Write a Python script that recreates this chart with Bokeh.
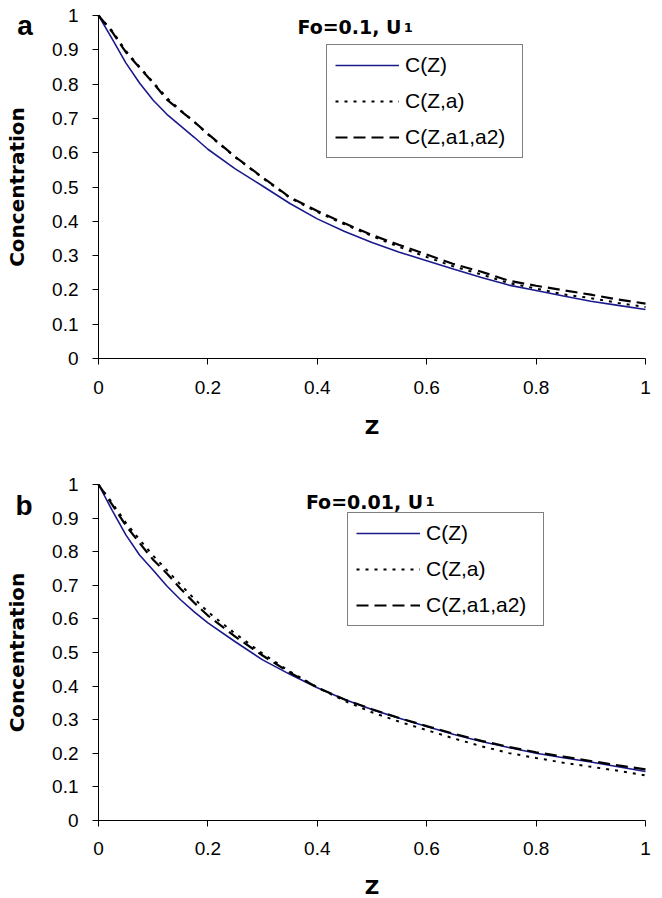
from bokeh.plotting import figure
from bokeh.models import Range1d, FixedTicker, Label, Legend, LegendItem
from bokeh.layouts import column
from bokeh.embed import file_html
from bokeh.resources import INLINE

# ---------------- data ----------------
z = [0, 0.025, 0.05, 0.075, 0.1, 0.125, 0.15, 0.175, 0.2, 0.25, 0.3, 0.35, 0.4,
     0.45, 0.5, 0.55, 0.6, 0.65, 0.7, 0.75, 0.8, 0.85, 0.9, 0.95, 1.0]

# panel a : Fo=0.1
a_cz = [1.0, 0.932, 0.862, 0.803, 0.753, 0.712, 0.678, 0.645, 0.610, 0.553, 0.503, 0.452, 0.407,
        0.370, 0.338, 0.310, 0.285, 0.260, 0.236, 0.214, 0.198, 0.182, 0.167, 0.155, 0.143]
a_cza = [1.0, 0.955, 0.897, 0.850, 0.805, 0.760, 0.724, 0.690, 0.653, 0.587, 0.526, 0.468, 0.427,
         0.391, 0.357, 0.325, 0.296, 0.268, 0.245, 0.220, 0.204, 0.187, 0.176, 0.162, 0.150]
a_cza12 = [1.0, 0.952, 0.893, 0.848, 0.803, 0.755, 0.722, 0.690, 0.655, 0.588, 0.528, 0.470, 0.430,
           0.394, 0.360, 0.331, 0.303, 0.275, 0.253, 0.227, 0.212, 0.199, 0.186, 0.172, 0.160]

# panel b : Fo=0.01
b_cz = [1.0, 0.923, 0.850, 0.790, 0.745, 0.698, 0.657, 0.621, 0.588, 0.532, 0.478, 0.435, 0.395,
        0.360, 0.330, 0.304, 0.280, 0.256, 0.235, 0.217, 0.200, 0.187, 0.174, 0.160, 0.146]
b_cza = [1.0, 0.945, 0.886, 0.836, 0.788, 0.745, 0.702, 0.660, 0.621, 0.556, 0.497, 0.443, 0.396,
         0.356, 0.322, 0.294, 0.269, 0.244, 0.221, 0.201, 0.186, 0.172, 0.160, 0.148, 0.134]
b_cza12 = [1.0, 0.940, 0.878, 0.826, 0.776, 0.735, 0.690, 0.648, 0.610, 0.547, 0.491, 0.440, 0.396,
           0.360, 0.331, 0.305, 0.281, 0.258, 0.237, 0.219, 0.203, 0.190, 0.177, 0.164, 0.152]

series_names = ["C(Z)", "C(Z,a)", "C(Z,a1,a2)"]
x_ticks = [0, 0.2, 0.4, 0.6, 0.8, 1]
x_tick_labels = ["0", "0.2", "0.4", "0.6", "0.8", "1"]
y_ticks = [0, 0.1, 0.2, 0.3, 0.4, 0.5, 0.6, 0.7, 0.8, 0.9, 1]
y_tick_labels = ["0", "0.1", "0.2", "0.3", "0.4", "0.5", "0.6", "0.7", "0.8", "0.9", "1"]

TICK_FONT = "Liberation Sans"
BOLD_FONT = "DejaVu Sans"

# frame geometry (pixels): the frame fills the whole canvas, axes are pinned at 0
FW = 655          # canvas width
AX_X = 98         # pixel column of z = 0
UNIT_X = 547      # pixels per unit of z


def make_panel(cz, cza, cza12, title_main, letter, canvas_h, y1_px, y0_px,
               legend_xy, lab_standoff, axlab_standoff, title_xy, letter_xy):
    unit_y = y0_px - y1_px
    y_top = 1 + y1_px / unit_y
    y_bot = -(canvas_h - y0_px) / unit_y
    x_lo = -AX_X / UNIT_X
    x_hi = (FW - AX_X) / UNIT_X
    p = figure(frame_width=FW, frame_height=canvas_h, output_backend="svg",
               toolbar_location=None, x_range=Range1d(x_lo, x_hi),
               y_range=Range1d(y_bot, y_top),
               min_border_left=0, min_border_right=0, min_border_top=0,
               min_border_bottom=0)
    p.outline_line_color = None
    p.xgrid.visible = False
    p.ygrid.visible = False
    p.background_fill_color = "white"
    p.border_fill_color = "white"

    for ax, ticks, labels in ((p.xaxis[0], x_ticks, x_tick_labels),
                              (p.yaxis[0], y_ticks, y_tick_labels)):
        ax.ticker = FixedTicker(ticks=ticks)
        ax.major_label_overrides = {t: l for t, l in zip(ticks, labels)}
        ax.fixed_location = 0
        ax.bounds = (0, 1)
        ax.minor_tick_line_color = None
        ax.major_tick_in = 0
        ax.major_tick_out = 6
        ax.axis_line_color = "black"
        ax.major_tick_line_color = "black"
        ax.major_label_text_font = TICK_FONT
        ax.major_label_text_font_size = "19px"
        ax.major_label_text_color = "black"
        ax.axis_label_text_font = BOLD_FONT
        ax.axis_label_text_font_style = "bold"
        ax.axis_label_text_font_size = "20px"
        ax.axis_label_text_color = "black"
    p.xaxis.axis_label = "Z"
    p.yaxis.axis_label = "Concentration"
    p.xaxis.major_label_standoff = lab_standoff
    p.xaxis.axis_label_standoff = axlab_standoff
    p.yaxis.major_label_standoff = 14
    p.yaxis.axis_label_standoff = 20

    r1 = p.line(z, cz, line_color="#1a1a8c", line_width=1.6)
    r2 = p.line(z, cza, line_color="black", line_width=2, line_dash="3 6")
    r3 = p.line(z, cza12, line_color="black", line_width=2.2, line_dash="12 6")

    legend = Legend(items=[LegendItem(label=series_names[0], renderers=[r1]),
                           LegendItem(label=series_names[1], renderers=[r2]),
                           LegendItem(label=series_names[2], renderers=[r3])],
                    location=legend_xy, margin=0, padding=8, spacing=12,
                    glyph_width=64, glyph_height=24, label_height=24, label_width=109,
                    label_standoff=6, border_line_color="black", border_line_width=1,
                    label_text_font=TICK_FONT, label_text_font_size="21px",
                    label_text_color="black", background_fill_alpha=1)
    p.add_layout(legend, "center")

    tx, ty = title_xy
    p.add_layout(Label(x=tx, y=ty, text=title_main, text_align="right",
                       text_baseline="alphabetic", text_font=BOLD_FONT,
                       text_font_style="bold", text_font_size="19px", text_color="black"))
    p.add_layout(Label(x=tx + 0.004, y=ty, text="1", text_align="left",
                       text_baseline="alphabetic", text_font=BOLD_FONT,
                       text_font_style="bold", text_font_size="13px", text_color="black"))
    lx, ly = letter_xy
    p.add_layout(Label(x=lx, y=ly, text=letter, text_align="center",
                       text_baseline="alphabetic", text_font="Liberation Sans",
                       text_font_style="bold", text_font_size="28px", text_color="black"))
    return p


# top panel: canvas rows 0..440, z-axis at row 358, C=1 at row 15
pa = make_panel(a_cz, a_cza, a_cza12, "Fo=0.1, U", "a", 440, 15, 358,
                (326, 282), 16, 18, (0.554, 0.966), (-0.1344, 0.971))
# bottom panel: canvas rows 440..898 (local 0..458), C=1 at 44, axis at 380
pb = make_panel(b_cz, b_cza, b_cza12, "Fo=0.01, U", "b", 458, 44, 380,
                (347, 272), 15, 17, (0.5936, 0.948), (-0.1362, 0.9375))

layout = column(pa, pb, spacing=0)
open("out.html", "w").write(file_html(layout, INLINE))
